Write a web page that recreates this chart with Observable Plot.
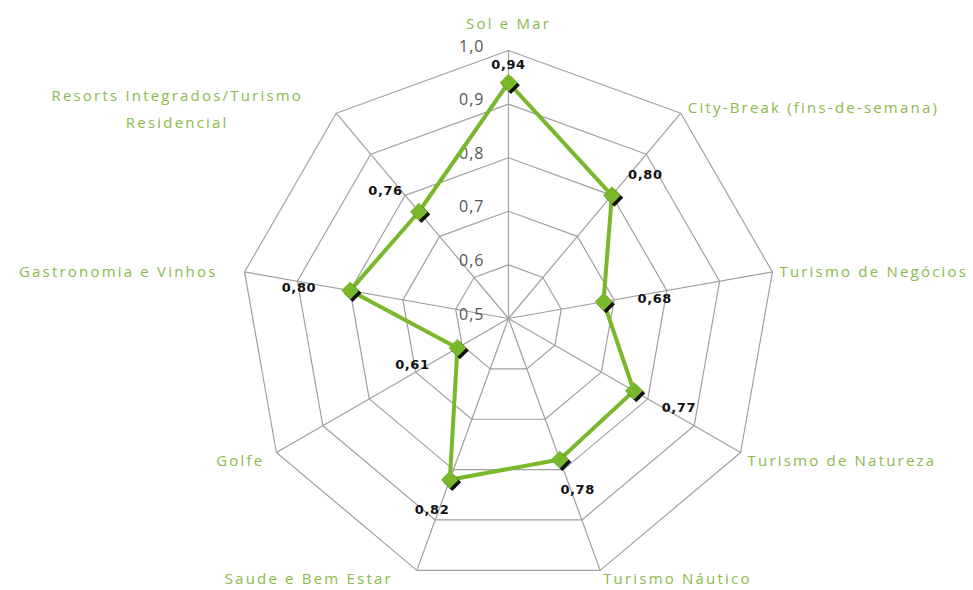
<!DOCTYPE html>
<html>
<head>
<meta charset="utf-8">
<script src="https://cdn.jsdelivr.net/npm/d3@7"></script>
<script src="https://cdn.jsdelivr.net/npm/@observablehq/plot@0.6"></script>
<style>
  html, body { margin: 0; padding: 0; background: #fff; }
  #chart { width: 973px; height: 590px; }
  .cat text { letter-spacing: 2.2px; }
  .tick text { letter-spacing: 1px; }
  .val text { letter-spacing: 0.6px; }
</style>
</head>
<body>
<div id="chart"></div>
<script>
// ---- data ----
const categories = [
  "Sol e Mar",
  "City-Break (fins-de-semana)",
  "Turismo de Negócios",
  "Turismo de Natureza",
  "Turismo Náutico",
  "Saude e Bem Estar",
  "Golfe",
  "Gastronomia e Vinhos",
  "Resorts Integrados/Turismo\nResidencial"
];
const values = [0.94, 0.80, 0.68, 0.77, 0.78, 0.82, 0.61, 0.80, 0.76];
const valueLabels = ["0,94", "0,80", "0,68", "0,77", "0,78", "0,82", "0,61", "0,80", "0,76"];
const levels = [0.5, 0.6, 0.7, 0.8, 0.9, 1.0];
const levelLabels = ["0,5", "0,6", "0,7", "0,8", "0,9", "1,0"];

// ---- geometry helpers ----
const W = 973, H = 590;
const cx = 508, cy = 318, R = 268;
const vMin = 0.5, vMax = 1.0;
const n = categories.length;
const angle = i => (i * 2 * Math.PI) / n;
const rad = v => (v - vMin) / (vMax - vMin);
const px = p => p / R; // pixels -> data units

const green = "#78b82a";
const labelGreen = "#8cb94c";
const gridColor = "#a0a0a0";

// ring polylines (closed)
const rings = levels.filter(l => l > vMin).flatMap(l =>
  d3.range(n + 1).map(k => ({level: l, i: k % n}))
);
const spokes = categories.map((c, i) => ({i}));
const series = d3.range(n + 1).map(k => ({i: k % n, v: values[k % n]}));
const points = values.map((v, i) => ({i, v, label: valueLabels[i]}));
const ticks = levels.map((l, k) => ({l, label: levelLabels[k]}));

// category label placement rules (by angle)
function catPos(i) {
  const s = Math.sin(angle(i)), c = Math.cos(angle(i));
  if (Math.abs(s) < 0.1) return {x: 0, y: 1 + px(30), a: "middle"};
  if (s > 0) {
    const dy = c > 0.3 ? px(5) : c < -0.3 ? -px(9) : 0;
    const dx = c < -0.9 ? px(3) : px(7);
    return {x: s + dx, y: c + dy, a: "start"};
  }
  if (c > 0.5) return {x: s - px(159), y: c + px(7), a: "middle"};
  const dy = c < -0.3 ? -px(9) : 0;
  const dx = c < -0.9 ? px(24) : Math.abs(c) < 0.3 ? px(27) : px(12);
  return {x: s - dx, y: c + dy, a: "end"};
}
const catData = categories.map((name, i) => ({name, ...catPos(i)}));

// value label offset rules
function valPos(d) {
  const s = Math.sin(angle(d.i)), c = Math.cos(angle(d.i));
  const r = rad(d.v);
  const ky = c > 0.95 ? 20 : 30;
  return {x: r * s + px(52 * s), y: r * c + px(ky * c) - px(2)};
}
const valData = points.map(d => ({...d, ...valPos(d)}));

const catStyle = {fill: labelGreen, fontSize: 15, fontFamily: "Open Sans", className: "cat"};

const plot = Plot.plot({
  width: W,
  height: H,
  marginLeft: cx - R,
  marginRight: W - (cx + R),
  marginTop: cy - R,
  marginBottom: H - (cy + R),
  x: {domain: [-1, 1], axis: null},
  y: {domain: [-1, 1], axis: null},
  style: {background: "white", overflow: "visible"},
  marks: [
    Plot.line(rings, {
      x: d => rad(d.level) * Math.sin(angle(d.i)),
      y: d => rad(d.level) * Math.cos(angle(d.i)),
      z: "level",
      stroke: gridColor,
      strokeWidth: 1.2
    }),
    Plot.link(spokes, {
      x1: 0, y1: 0,
      x2: d => Math.sin(angle(d.i)),
      y2: d => Math.cos(angle(d.i)),
      stroke: gridColor,
      strokeWidth: 1.2
    }),
    Plot.text(ticks, {
      x: 0,
      y: d => rad(d.l),
      text: "label",
      textAnchor: "end",
      dx: -24,
      dy: -4,
      fill: "#555",
      fontSize: 16,
      fontFamily: "Open Sans",
      className: "tick"
    }),
    Plot.line(series, {
      x: d => rad(d.v) * Math.sin(angle(d.i)),
      y: d => rad(d.v) * Math.cos(angle(d.i)),
      stroke: green,
      strokeWidth: 4,
      strokeLinejoin: "miter"
    }),
    Plot.dot(points, {
      x: d => rad(d.v) * Math.sin(angle(d.i)),
      y: d => rad(d.v) * Math.cos(angle(d.i)),
      symbol: "diamond2",
      r: 8,
      fill: "#111",
      dx: 2.5,
      dy: 2.5
    }),
    Plot.dot(points, {
      x: d => rad(d.v) * Math.sin(angle(d.i)),
      y: d => rad(d.v) * Math.cos(angle(d.i)),
      symbol: "diamond2",
      r: 8,
      fill: green
    }),
    Plot.text(valData, {
      x: "x",
      y: "y",
      text: "label",
      fontSize: 13,
      fontWeight: "bold",
      fontFamily: "DejaVu Sans",
      fill: "#111",
      className: "val"
    }),
    Plot.text(catData.filter(d => d.a === "start"), {
      x: "x", y: "y", text: "name", textAnchor: "start", ...catStyle
    }),
    Plot.text(catData.filter(d => d.a === "end"), {
      x: "x", y: "y", text: "name", textAnchor: "end", ...catStyle
    }),
    Plot.text(catData.filter(d => d.a === "middle"), {
      x: "x", y: "y", text: "name", textAnchor: "middle", lineHeight: 1.75, ...catStyle
    })
  ]
});
document.getElementById("chart").appendChild(plot);
</script>
</body>
</html>
